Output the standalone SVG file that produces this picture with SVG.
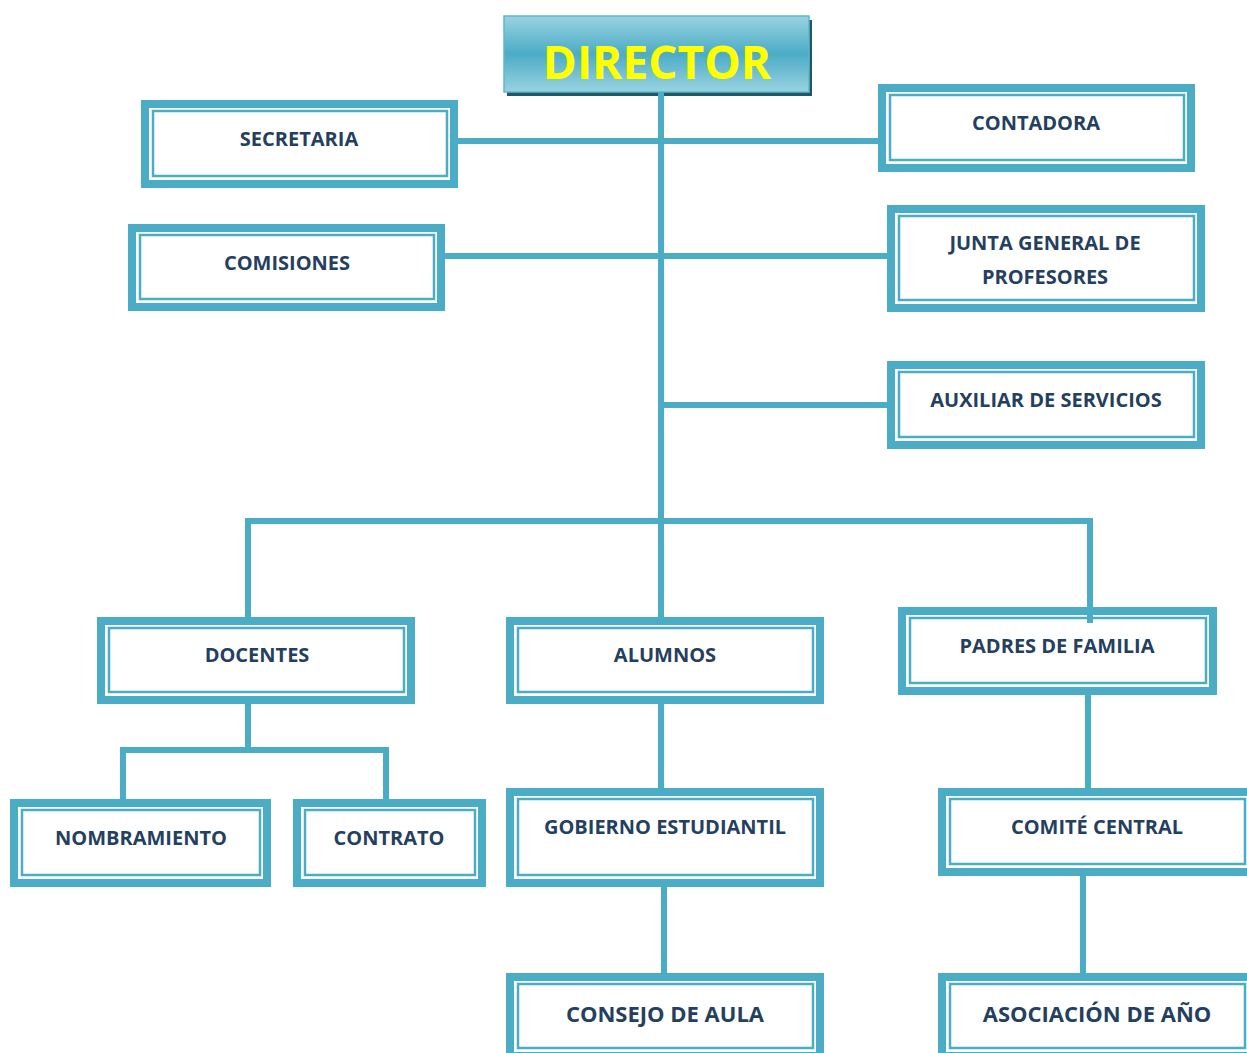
<svg xmlns="http://www.w3.org/2000/svg" width="1247" height="1053" viewBox="0 0 1247 1053">
<style>
.o{fill:#fff;stroke:#4BACC6;stroke-width:8}
.i{fill:none;stroke:#4BACC6;stroke-width:2.5}
.t{font-family:"Open Sans","Liberation Sans",sans-serif;font-weight:bold;font-size:20px;fill:#243F60;text-anchor:middle}
.tl{font-size:22px}
.c{fill:none;stroke:#4BACC6;stroke-width:6;stroke-linejoin:miter}
</style>
<defs>
<linearGradient id="g" x1="0" y1="0" x2="0" y2="1">
<stop offset="0" stop-color="#9AD3E1"/>
<stop offset="0.5" stop-color="#4BACC6"/>
<stop offset="1" stop-color="#9AD3E1"/>
</linearGradient>
</defs>
<rect width="1247" height="1053" fill="#fff"/>
<g id="director">
<rect x="507" y="20" width="305" height="76" fill="#215868"/>
<rect x="504" y="16" width="305" height="76" fill="url(#g)" stroke="#5FB6CE" stroke-width="1.5"/>
<text x="657" y="79" font-family="'Open Sans','Liberation Sans',sans-serif" font-weight="bold" font-size="46" fill="#FFFF00" text-anchor="middle">DIRECTOR</text>
</g>
<g id="secretaria">
<rect class="o" x="145" y="104" width="309" height="80"/>
<rect class="i" x="153" y="111" width="294" height="65"/>
<text class="t" x="299" y="146">SECRETARIA</text>
</g>
<g id="contadora">
<rect class="o" x="882" y="88" width="309" height="80"/>
<rect class="i" x="890" y="95" width="294" height="65"/>
<text class="t" x="1036" y="130">CONTADORA</text>
</g>
<g id="comisiones">
<rect class="o" x="132" y="228" width="309" height="79"/>
<rect class="i" x="140" y="235" width="294" height="64"/>
<text class="t" x="287" y="270">COMISIONES</text>
</g>
<g id="junta">
<rect class="o" x="891" y="209" width="310" height="99"/>
<rect class="i" x="899" y="216" width="295" height="84"/>
<text class="t" x="1045" y="250">JUNTA GENERAL DE</text>
<text class="t" x="1045" y="284">PROFESORES</text>
</g>
<g id="auxiliar">
<rect class="o" x="891" y="365" width="310" height="80"/>
<rect class="i" x="899" y="372" width="295" height="65"/>
<text class="t" x="1046" y="407">AUXILIAR DE SERVICIOS</text>
</g>
<g id="docentes">
<rect class="o" x="101" y="621" width="310" height="79"/>
<rect class="i" x="109" y="628" width="295" height="64"/>
<text class="t" x="257" y="662">DOCENTES</text>
</g>
<g id="alumnos">
<rect class="o" x="510" y="621" width="310" height="79"/>
<rect class="i" x="518" y="628" width="295" height="64"/>
<text class="t" x="665" y="662">ALUMNOS</text>
</g>
<g id="padres">
<rect class="o" x="902" y="611" width="311" height="80"/>
<rect class="i" x="910" y="618" width="296" height="65"/>
<text class="t" x="1057" y="653">PADRES DE FAMILIA</text>
</g>
<g id="nombramiento">
<rect class="o" x="14" y="803" width="253" height="80"/>
<rect class="i" x="22" y="810" width="238" height="65"/>
<text class="t" x="141" y="845">NOMBRAMIENTO</text>
</g>
<g id="contrato">
<rect class="o" x="297" y="803" width="185" height="80"/>
<rect class="i" x="305" y="810" width="170" height="65"/>
<text class="t" x="389" y="845">CONTRATO</text>
</g>
<g id="gobierno">
<rect class="o" x="510" y="792" width="310" height="91"/>
<rect class="i" x="518" y="799" width="295" height="76"/>
<text class="t" x="665" y="834">GOBIERNO ESTUDIANTIL</text>
</g>
<g id="comite">
<rect class="o" x="942" y="792" width="310" height="80"/>
<rect class="i" x="950" y="799" width="295" height="65"/>
<text class="t" x="1097" y="834">COMITÉ CENTRAL</text>
</g>
<g id="consejo">
<rect class="o" x="510" y="977" width="310" height="79"/>
<rect class="i" x="518" y="984" width="295" height="64"/>
<text class="t tl" x="665" y="1022">CONSEJO DE AULA</text>
</g>
<g id="asociacion">
<rect class="o" x="942" y="977" width="310" height="79"/>
<rect class="i" x="950" y="984" width="295" height="64"/>
<text class="t tl" x="1097" y="1022">ASOCIACIÓN DE AÑO</text>
</g>
<g id="connectors">
<path class="c" d="M661 92V617"/>
<path class="c" d="M458 141H878"/>
<path class="c" d="M445 256H887"/>
<path class="c" d="M661 405H887"/>
<path class="c" d="M248 617V521H1090V623"/>
<path class="c" d="M248 704V750"/>
<path class="c" d="M123 799V750H386V799"/>
<path class="c" d="M661 704V788"/>
<path class="c" d="M664 887V973"/>
<path class="c" d="M1088 695V788"/>
<path class="c" d="M1083 876V973"/>
</g>
</svg>
